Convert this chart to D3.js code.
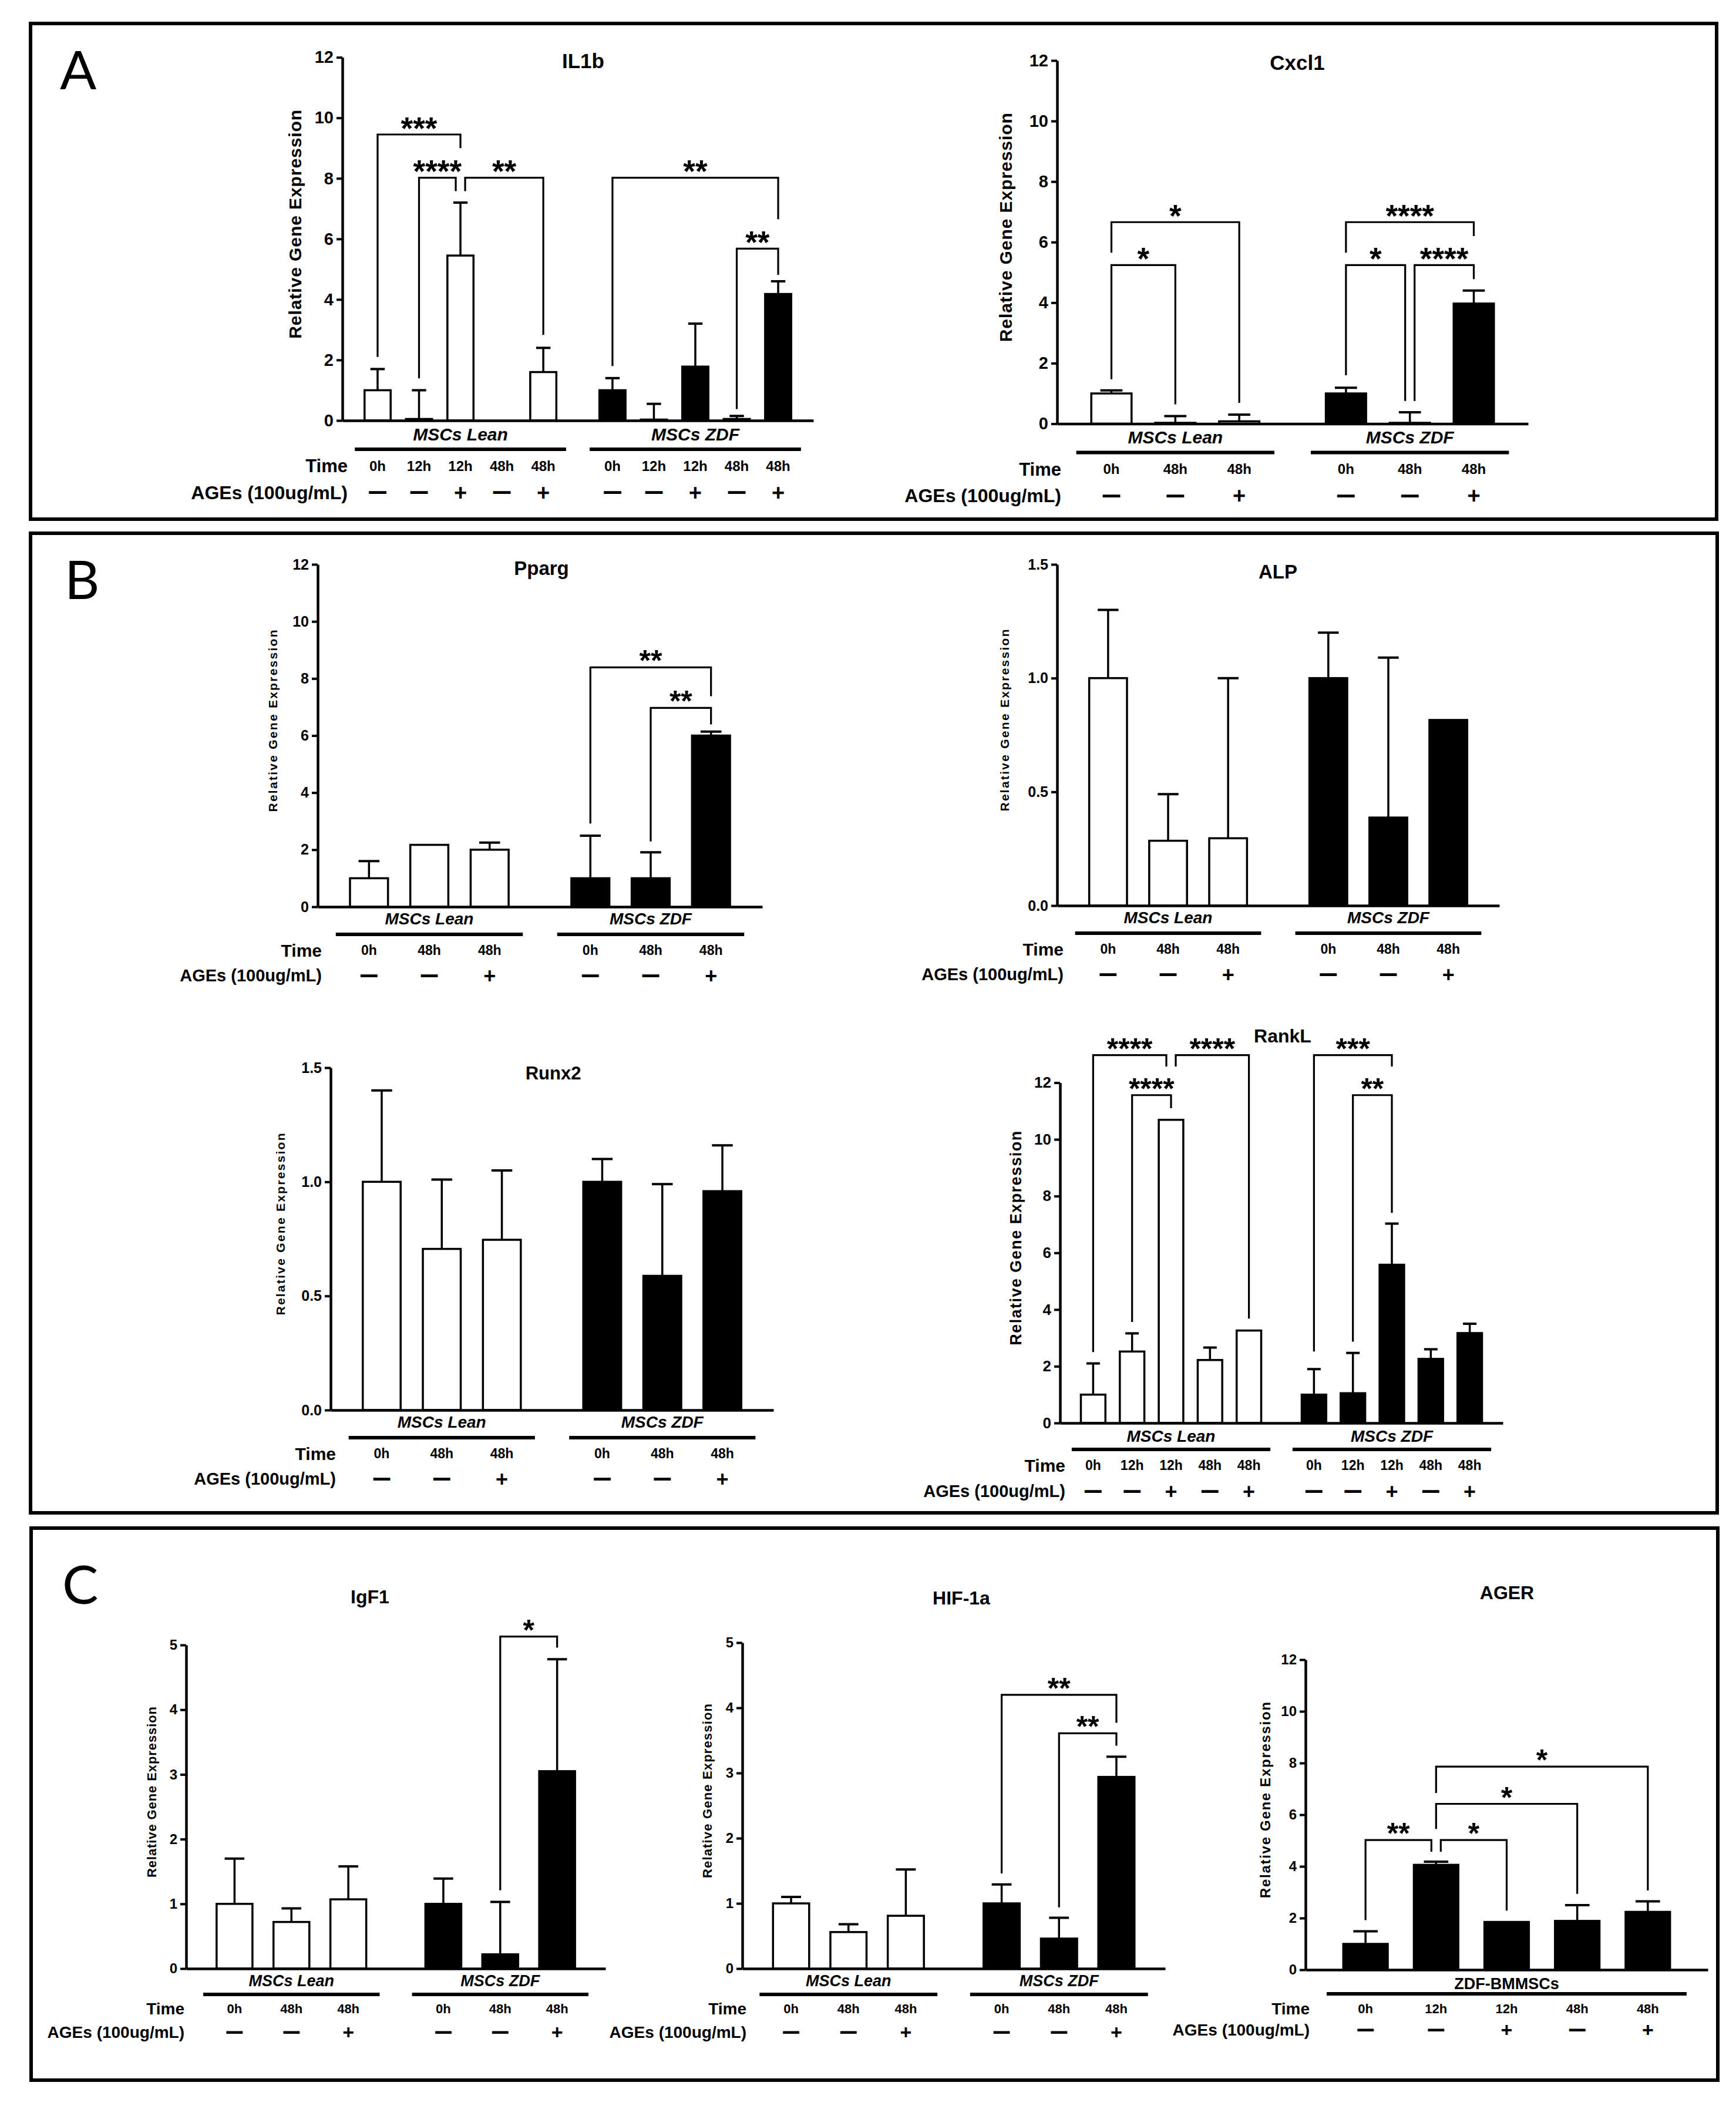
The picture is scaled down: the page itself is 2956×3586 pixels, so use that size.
<!DOCTYPE html>
<html>
<head>
<meta charset="utf-8">
<script src="https://cdn.jsdelivr.net/npm/d3@7"></script>
<style>
  body { margin: 0; background: #fff; }
</style>
</head>
<body>
<svg id="fig" width="2956" height="3586"></svg>
<script>
const FONT = '"Liberation Sans", Arial, sans-serif';

// ---- tick values / row labels ----
const ticks12 = [0, 2, 4, 6, 8, 10, 12];
const ticks15 = [0, 0.5, 1.0, 1.5];
const ticks5 = [0, 1, 2, 3, 4, 5];
const groupsLeanZdf = ['MSCs Lean', 'MSCs ZDF'];
const groupsAger = ['ZDF-BMMSCs'];
const time5 = ['0h', '12h', '12h', '48h', '48h'];
const ages5 = ['—', '—', '+', '—', '+'];
const time3 = ['0h', '48h', '48h'];
const ages3 = ['—', '—', '+'];

// ---- values (mean, top of error bar) ----
const il1bMean = [1.0, 0.05, 5.45, 0, 1.6, 1.0, 0.03, 1.78, 0.05, 4.18];
const il1bErr = [1.7, 1.0, 7.2, null, 2.4, 1.4, 0.55, 3.2, 0.15, 4.6];
const cxcl1Mean = [1.0, 0.03, 0.08, 1.0, 0.03, 3.97];
const cxcl1Err = [1.1, 0.25, 0.3, 1.19, 0.38, 4.4];
const ppargMean = [1.0, 2.17, 2.0, 1.0, 1.0, 6.0];
const ppargErr = [1.6, null, 2.25, 2.49, 1.91, 6.14];
const alpMean = [1.0, 0.285, 0.296, 1.0, 0.387, 0.816];
const alpErr = [1.30, 0.49, 1.0, 1.20, 1.09, null];
const runx2Mean = [1.0, 0.706, 0.746, 1.0, 0.588, 0.959];
const runx2Err = [1.40, 1.01, 1.05, 1.10, 0.99, 1.16];
const ranklMean = [1.0, 2.52, 10.69, 2.22, 3.26, 1.0, 1.05, 5.58, 2.26, 3.17];
const ranklErr = [2.1, 3.16, null, 2.66, null, 1.9, 2.47, 7.03, 2.6, 3.5];
const igf1Mean = [1.0, 0.72, 1.07, 1.0, 0.22, 3.05];
const igf1Err = [1.70, 0.93, 1.58, 1.39, 1.03, 4.78];
const hifMean = [1.0, 0.56, 0.81, 1.0, 0.46, 2.94];
const hifErr = [1.10, 0.68, 1.52, 1.29, 0.78, 3.25];
const agerMean = [1.0, 4.06, 1.85, 1.89, 2.24];
const agerErr = [1.49, 4.18, null, 2.5, 2.65];

// ---- significance brackets: [from bar, to bar, level, left leg end, right leg end, label] ----
const il1bSig = [
  [0, 2, 9.45, 2.1, 9.0, '***'],
  [1, 2, 8.02, 1.39, 7.58, '****'],
  [2, 4, 8.02, 7.58, 2.83, '**'],
  [5, 9, 8.02, 1.8, 6.65, '**'],
  [8, 9, 5.68, 0.38, 4.81, '**']
];
const cxcl1Sig = [
  [0, 1, 5.24, 1.47, 0.64, '*'],
  [0, 2, 6.66, 5.65, 0.69, '*'],
  [3, 5, 6.66, 5.65, 6.2, '****'],
  [3, 4, 5.24, 1.6, 0.75, '*'],
  [4, 5, 5.24, 0.75, 4.78, '****']
];
const ppargSig = [
  [3, 5, 8.39, 2.92, 7.38, '**'],
  [4, 5, 6.97, 2.29, 6.39, '**']
];
const ranklSig = [
  [0, 2, 12.97, 2.5, 12.57, '****'],
  [2, 4, 12.97, 12.57, 3.68, '****'],
  [1, 2, 11.56, 3.56, 11.1, '****'],
  [5, 7, 12.97, 2.52, 12.57, '***'],
  [6, 7, 11.56, 2.87, 7.41, '**']
];
const igf1Sig = [[4, 5, 5.13, 1.21, 4.96, '*']];
const hifSig = [
  [3, 5, 4.2, 1.46, 3.77, '**'],
  [4, 5, 3.61, 0.94, 3.42, '**']
];
const agerSig = [
  [0, 1, 5.02, 1.92, 4.57, '**'],
  [1, 2, 5.02, 4.57, 2.29, '*'],
  [1, 3, 6.42, 5.45, 2.94, '*'],
  [1, 4, 7.86, 6.84, 3.07, '*']
];

// ---- layout ----
const PAD = 0.85, GAP = 1.67, BARW = 0.63, CAPW = 0.55, NUDGE = 8;

const styleA = { tick: 29, ylab: 30, title: 35, group: 30, hour: 24, time: 31, ages: 32, plus: 38, dash: 28, star: 53, off: [23, 49, 77, 122] };
const styleB = { tick: 25, ylab: 21, title: 33, group: 28, hour: 23, time: 30, ages: 29, plus: 36, dash: 27, star: 50, off: [20, 47, 74, 117] };
const styleR = Object.assign({}, styleB, { tick: 26, ylab: 27, title: 32, off: [22, 45, 72, 116] });
const styleC = { tick: 24, ylab: 22, title: 32, group: 27, hour: 22, time: 28, ages: 28, plus: 34, dash: 26, star: 50, off: [20, 44, 68, 108] };

const fmtInt = d3.format('d');
const fmt1 = d3.format('.1f');

const panels = [
  { letter: 'A', x: 52, y: 40, w: 2871, h: 844, lx: 102, ly: 152 },
  { letter: 'B', x: 52, y: 908, w: 2872, h: 1668, lx: 110, ly: 1020 },
  { letter: 'C', x: 53, y: 2602, w: 2872, h: 940, lx: 106, ly: 2731 }
];

const charts = [
  { title: 'IL1b', means: il1bMean, errs: il1bErr, sig: il1bSig, counts: [5, 5], names: groupsLeanZdf, time: time5, ages: ages5,
    fills: ['#fff', '#000'], ymax: 12, ticks: ticks12, fmt: fmtInt, style: styleA,
    x0: 583, x1: 1385, yTop: 97.6, yBot: 716, tx: 993, ty: 103, labelDx: -78, labelLen: 390, rowDx: 9 },
  { title: 'Cxcl1', means: cxcl1Mean, errs: cxcl1Err, sig: cxcl1Sig, counts: [3, 3], names: groupsLeanZdf, time: time3, ages: ages3,
    fills: ['#fff', '#000'], ymax: 12, ticks: ticks12, fmt: fmtInt, style: styleA,
    x0: 1800, x1: 2602, yTop: 103, yBot: 721.5, tx: 2209, ty: 106, labelDx: -85, labelLen: 390, rowDx: 7 },
  { title: 'Pparg', means: ppargMean, errs: ppargErr, sig: ppargSig, counts: [3, 3], names: groupsLeanZdf, time: time3, ages: ages3,
    fills: ['#fff', '#000'], ymax: 12, ticks: ticks12, fmt: fmtInt, style: styleB,
    x0: 541, x1: 1298, yTop: 961, yBot: 1544, tx: 922, ty: 967, labelDx: -74, labelLen: 310, rowDx: 7 },
  { title: 'ALP', means: alpMean, errs: alpErr, sig: [], counts: [3, 3], names: groupsLeanZdf, time: time3, ages: ages3,
    fills: ['#fff', '#000'], ymax: 1.5, ticks: ticks15, fmt: fmt1, style: styleB,
    x0: 1800, x1: 2553, yTop: 961, yBot: 1542, tx: 2176, ty: 973, labelDx: -87, labelLen: 310, rowDx: 11 },
  { title: 'Runx2', means: runx2Mean, errs: runx2Err, sig: [], counts: [3, 3], names: groupsLeanZdf, time: time3, ages: ages3,
    fills: ['#fff', '#000'], ymax: 1.5, ticks: ticks15, fmt: fmt1, style: Object.assign({}, styleB, { title: 31 }),
    x0: 563, x1: 1317, yTop: 1818, yBot: 2401, tx: 942, ty: 1827, labelDx: -83, labelLen: 310, rowDx: 9 },
  { title: 'RankL', means: ranklMean, errs: ranklErr, sig: ranklSig, counts: [5, 5], names: groupsLeanZdf, time: time5, ages: ages5,
    fills: ['#fff', '#000'], ymax: 12, ticks: ticks12, fmt: fmtInt, style: styleR,
    x0: 1805, x1: 2559, yTop: 1843.5, yBot: 2423, tx: 2184, ty: 1763, labelDx: -73, labelLen: 365, rowDx: 9 },
  { title: 'IgF1', means: igf1Mean, errs: igf1Err, sig: igf1Sig, counts: [3, 3], names: groupsLeanZdf, time: time3, ages: ages3,
    fills: ['#fff', '#000'], ymax: 5, ticks: ticks5, fmt: fmtInt, style: styleC,
    x0: 317, x1: 1031, yTop: 2801, yBot: 3352, tx: 630, ty: 2718, labelDx: -57, labelLen: 291, rowDx: -3 },
  { title: 'HIF-1a', means: hifMean, errs: hifErr, sig: hifSig, counts: [3, 3], names: groupsLeanZdf, time: time3, ages: ages3,
    fills: ['#fff', '#000'], ymax: 5, ticks: ticks5, fmt: fmtInt, style: styleC,
    x0: 1264, x1: 1984, yTop: 2797, yBot: 3352, tx: 1637, ty: 2720, labelDx: -58, labelLen: 297, rowDx: 7 },
  { title: 'AGER', means: agerMean, errs: agerErr, sig: agerSig, counts: [5], names: groupsAger, time: time5, ages: ages5,
    fills: ['#000'], ymax: 12, ticks: ticks12, fmt: fmtInt, style: Object.assign({}, styleC, { ylab: 24, off: [23, 41, 66, 102] }),
    x0: 2223, x1: 2908, yTop: 2826, yBot: 3354, tx: 2566, ty: 2711, labelDx: -66, labelLen: 334, rowDx: 7, upright: true }
];

const svg = d3.select('#fig');
svg.append('rect').attr('width', 2956).attr('height', 3586).attr('fill', '#fff');

// panel frames and letters
svg.selectAll('rect.panel').data(panels).join('rect')
  .attr('class', 'panel')
  .attr('x', d => d.x).attr('y', d => d.y)
  .attr('width', d => d.w).attr('height', d => d.h)
  .attr('fill', 'none').attr('stroke', '#000').attr('stroke-width', 6);

svg.selectAll('text.letter').data(panels).join('text')
  .attr('class', 'letter')
  .attr('x', d => d.lx).attr('y', d => d.ly)
  .attr('font-family', 'Lato, "Open Sans", sans-serif')
  .attr('font-size', 92)
  .text(d => d.letter);

charts.forEach(drawChart);

function drawChart(c) {
  const s = c.style;
  const g = svg.append('g').attr('font-family', FONT).attr('font-weight', 'bold');

  // bar slot positions (in slot units), with a gap between groups
  const centers = [], groupOf = [], inGroup = [];
  let p = PAD;
  c.counts.forEach((cnt, gi) => {
    d3.range(cnt).forEach(k => { centers.push(p); groupOf.push(gi); inGroup.push(k); p += 1; });
    p += GAP - 1;
  });
  const span = centers[centers.length - 1] + PAD;
  const x = d3.scaleLinear().domain([0, span]).range([c.x0, c.x1]);
  const y = d3.scaleLinear().domain([0, c.ymax]).range([c.yBot, c.yTop]);
  const slot = x(1) - x(0);
  const bw = slot * BARW, cw = bw * CAPW;

  // bars
  g.selectAll('rect.bar').data(c.means).join('rect')
    .attr('class', 'bar')
    .attr('x', (d, i) => x(centers[i]) - bw / 2)
    .attr('y', d => y(d))
    .attr('width', bw)
    .attr('height', d => c.yBot - y(d))
    .attr('fill', (d, i) => c.fills[groupOf[i]])
    .attr('stroke', '#000').attr('stroke-width', 3.5);

  // error bars (upper only)
  const eb = c.errs.map((e, i) => ({ e, i })).filter(d => d.e != null);
  g.selectAll('line.err').data(eb).join('line')
    .attr('class', 'err')
    .attr('x1', d => x(centers[d.i])).attr('x2', d => x(centers[d.i]))
    .attr('y1', d => y(c.means[d.i])).attr('y2', d => y(d.e))
    .attr('stroke', '#000').attr('stroke-width', 3.5);
  g.selectAll('line.cap').data(eb).join('line')
    .attr('class', 'cap')
    .attr('x1', d => x(centers[d.i]) - cw / 2).attr('x2', d => x(centers[d.i]) + cw / 2)
    .attr('y1', d => y(d.e)).attr('y2', d => y(d.e))
    .attr('stroke', '#000').attr('stroke-width', 4);

  // axes
  const ya = g.append('g')
    .attr('transform', `translate(${c.x0},0)`)
    .call(d3.axisLeft(y).tickValues(c.ticks).tickFormat(c.fmt).tickSize(10).tickSizeOuter(0).tickPadding(5));
  ya.attr('font-family', FONT).attr('font-size', s.tick).attr('font-weight', 'bold');
  ya.select('.domain').attr('stroke-width', 4.5);
  ya.selectAll('.tick line').attr('stroke-width', 4);
  ya.selectAll('.tick text').attr('fill', '#000');

  const xa = g.append('g')
    .attr('transform', `translate(0,${c.yBot})`)
    .call(d3.axisBottom(x).tickValues([]).tickSizeOuter(0));
  xa.select('.domain').attr('stroke-width', 4.5);

  // significance brackets
  const sig = c.sig.map(([a, b, lv, le, re, label]) => ({ a, b, lv, le, re, label }));
  const shared = (k, lv, self) => sig.some(o => o !== self && o.lv === lv && (o.a === k || o.b === k));
  sig.forEach(d => {
    d.xl = x(centers[d.a]) + (shared(d.a, d.lv, d) ? NUDGE : 0);
    d.xr = x(centers[d.b]) - (shared(d.b, d.lv, d) ? NUDGE : 0);
  });
  g.selectAll('path.sig').data(sig).join('path')
    .attr('class', 'sig')
    .attr('d', d => `M${d.xl},${y(d.le)}V${y(d.lv)}H${d.xr}V${y(d.re)}`)
    .attr('fill', 'none').attr('stroke', '#000').attr('stroke-width', 3.2);
  g.selectAll('text.star').data(sig).join('text')
    .attr('class', 'star')
    .attr('x', d => (d.xl + d.xr) / 2)
    .attr('y', d => y(d.lv) - 23 + 0.58 * s.star)
    .attr('text-anchor', 'middle')
    .attr('font-size', s.star)
    .text(d => d.label);

  // title
  g.append('text')
    .attr('x', c.tx).attr('y', c.ty)
    .attr('dy', '0.36em')
    .attr('text-anchor', 'middle')
    .attr('font-size', s.title)
    .text(c.title);

  // y label
  const midY = (c.yBot + c.yTop) / 2 - 25;
  g.append('text')
    .attr('transform', `translate(${c.x0 + c.labelDx},${midY}) rotate(-90)`)
    .attr('text-anchor', 'middle')
    .attr('dy', '0.26em')
    .attr('font-size', s.ylab)
    .attr('textLength', c.labelLen)
    .attr('lengthAdjust', 'spacing')
    .text('Relative Gene Expression');

  // group names and underlines
  const rowY = s.off.map(o => c.yBot + o);
  const grp = c.names.map((name, gi) => {
    const idx = d3.range(centers.length).filter(i => groupOf[i] === gi);
    return { name, first: centers[idx[0]], last: centers[idx[idx.length - 1]] };
  });
  g.selectAll('text.grp').data(grp).join('text')
    .attr('class', 'grp')
    .attr('x', d => x((d.first + d.last) / 2))
    .attr('y', rowY[0]).attr('dy', '0.36em')
    .attr('text-anchor', 'middle')
    .attr('font-size', s.group)
    .attr('font-style', c.upright ? 'normal' : 'italic')
    .text(d => d.name);
  g.selectAll('line.under').data(grp).join('line')
    .attr('class', 'under')
    .attr('x1', d => x(d.first - 0.55)).attr('x2', d => x(d.last + 0.55))
    .attr('y1', rowY[1]).attr('y2', rowY[1])
    .attr('stroke', '#000').attr('stroke-width', 6);

  // Time / AGEs rows
  g.append('text')
    .attr('x', c.x0 + c.rowDx).attr('y', rowY[2]).attr('dy', '0.36em')
    .attr('text-anchor', 'end').attr('font-size', s.time)
    .text('Time');
  g.append('text')
    .attr('x', c.x0 + c.rowDx).attr('y', rowY[3]).attr('dy', '0.36em')
    .attr('text-anchor', 'end').attr('font-size', s.ages)
    .text('AGEs (100ug/mL)');

  g.selectAll('text.hour').data(centers).join('text')
    .attr('class', 'hour')
    .attr('x', d => x(d)).attr('y', rowY[2]).attr('dy', '0.36em')
    .attr('text-anchor', 'middle').attr('font-size', s.hour)
    .text((d, i) => c.time[inGroup[i]]);

  g.selectAll('text.ages').data(centers).join('text')
    .attr('class', 'ages')
    .attr('x', d => x(d)).attr('y', rowY[3])
    .attr('text-anchor', 'middle')
    .each(function (d, i) {
      const lab = c.ages[inGroup[i]];
      const t = d3.select(this).text(lab);
      if (lab === '+') {
        t.attr('font-size', s.plus).attr('dy', '0.36em');
      } else {
        t.attr('font-size', s.dash).attr('dy', '0.3em')
          .attr('stroke', '#000').attr('stroke-width', 1.8);
      }
    });
}
</script>
</body>
</html>
